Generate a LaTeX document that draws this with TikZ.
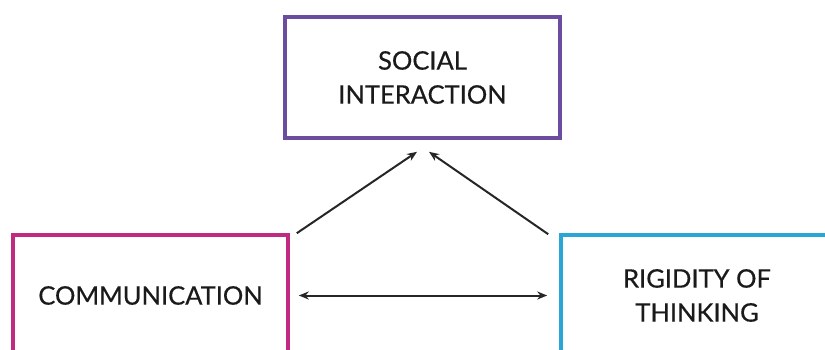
\documentclass[tikz,border=0pt]{standalone}
\usepackage{fontspec}
\setmainfont{Lato}
\usetikzlibrary{calc,arrows.meta}
\definecolor{cpurple}{HTML}{6B4C9E}
\definecolor{cmagenta}{HTML}{C02A80}
\definecolor{ccyan}{HTML}{2AA6D4}
\definecolor{ctext}{HTML}{1A1A1A}
\tikzset{
  box/.style={draw, line width=3.6pt, minimum width=275pt, minimum height=121pt, inner sep=0pt, align=center, text=ctext, font=\addfontfeatures{FakeBold=0.5}\fontsize{25.5}{34}\selectfont},
  arr/.style={line width=2pt, draw=black!85, -{Stealth[length=10pt,width=8pt]}},
  darr/.style={line width=2pt, draw=black!85, {Stealth[length=10pt,width=8pt]}-{Stealth[length=10pt,width=8pt]}}
}
\begin{document}
\begin{tikzpicture}[x=1pt,y=-1pt]
\useasboundingbox (0,0) rectangle (825,350);
\clip (0,0) rectangle (825,350);
\fill[white] (0,0) rectangle (825,350);
\node[box, draw=cpurple] (social) at (422.5,77.5) {SOCIAL\\INTERACTION};
\node[box, draw=cmagenta] (comm) at (150.5,295.5) {COMMUNICATION};
\node[box, draw=ccyan, minimum width=272pt] (rig) at (697,295.5) {RIGIDITY OF\\THINKING};
\draw[arr] ($(comm.north east)+(7,0)$) -- ($(social.south)+(-5.5,12)$);
\draw[arr] ($(rig.north west)+(-11,1)$) -- ($(social.south)+(6.5,12)$);
\draw[darr] ($(comm.east)+(9,0)$) -- ($(rig.west)+(-12,0)$);
\end{tikzpicture}
\end{document}
